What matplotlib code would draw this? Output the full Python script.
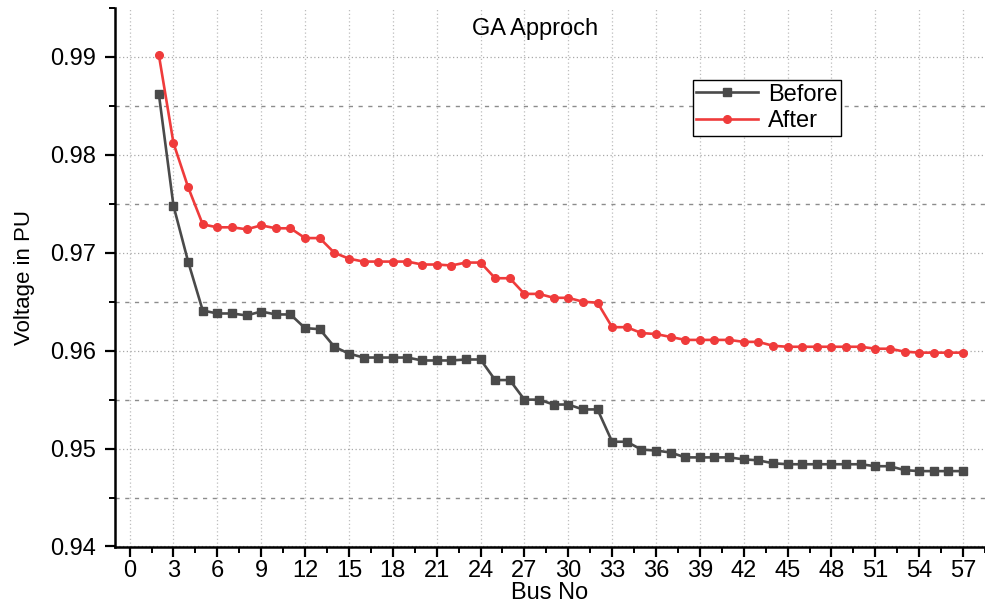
import numpy as np
import matplotlib
matplotlib.use("Agg")
import matplotlib.pyplot as plt
from matplotlib.ticker import MultipleLocator, FixedLocator, FormatStrFormatter

plt.rcParams['font.family'] = ['Liberation Sans', 'DejaVu Sans']

# bus voltages (pu) for buses 2..57
bus = list(range(2, 58))
before = [
    0.9862, 0.9748, 0.9691, 0.9641, 0.9638, 0.9638, 0.9636, 0.9640, 0.9637, 0.9637,
    0.9623, 0.9622, 0.9604, 0.9597, 0.9593, 0.9593, 0.9593, 0.9593, 0.9590, 0.9590,
    0.9590, 0.9591, 0.9591, 0.9570, 0.9570, 0.9550, 0.9550, 0.9545, 0.9545, 0.9540,
    0.9540, 0.9507, 0.9507, 0.9499, 0.9498, 0.9496, 0.9491, 0.9491, 0.9491, 0.9491,
    0.9489, 0.9488, 0.9485, 0.9484, 0.9484, 0.9484, 0.9484, 0.9484, 0.9484, 0.9482,
    0.9482, 0.9478, 0.9477, 0.9477, 0.9477, 0.9477]
after = [
    0.9902, 0.9812, 0.9767, 0.9729, 0.9726, 0.9726, 0.9724, 0.9728, 0.9725, 0.9725,
    0.9715, 0.9715, 0.9700, 0.9694, 0.9691, 0.9691, 0.9691, 0.9691, 0.9688, 0.9688,
    0.9687, 0.9690, 0.9690, 0.9674, 0.9674, 0.9658, 0.9658, 0.9654, 0.9654, 0.9650,
    0.9649, 0.9624, 0.9624, 0.9618, 0.9617, 0.9614, 0.9611, 0.9611, 0.9611, 0.9611,
    0.9609, 0.9609, 0.9605, 0.9604, 0.9604, 0.9604, 0.9604, 0.9604, 0.9604, 0.9602,
    0.9602, 0.9599, 0.9598, 0.9598, 0.9598, 0.9598]

fig = plt.figure(figsize=(9.85, 6.05), dpi=100)
ax = fig.add_axes([115 / 985, 1 - 546.5 / 605, 870 / 985, 538.5 / 605])

ax.plot(bus, before, color='#4a4a4a', lw=1.9, marker='s', markersize=5.5, label='Before')
ax.plot(bus, after, color='#ef3b3b', lw=1.9, marker='o', markersize=5.5, label='After')

ax.set_xlim(-1, 58.5)
ax.set_ylim(0.94, 0.995)
ax.xaxis.set_major_locator(MultipleLocator(3))
ax.xaxis.set_minor_locator(MultipleLocator(1.5))
ax.yaxis.set_major_locator(MultipleLocator(0.01))
ax.yaxis.set_minor_locator(FixedLocator([0.945, 0.955, 0.965, 0.975, 0.985, 0.995]))
ax.yaxis.set_major_formatter(FormatStrFormatter('%.2f'))

# grid: light dots on major, dashes on the half steps of y
ax.grid(True, which='major', axis='x', color='#bdbdbd', lw=0.9, ls=(0, (1, 2)))
ax.grid(True, which='major', axis='y', color='#a8a8a8', lw=0.9, ls=(0, (1, 2)))
ax.grid(True, which='minor', axis='y', color='#8c8c8c', lw=1.0, ls=(0, (3, 4)))
ax.set_axisbelow(True)
ax.yaxis.get_minor_ticks()[-1].gridline.set_visible(False)

for s in ['top', 'right']:
    ax.spines[s].set_visible(False)
for s in ['left', 'bottom']:
    ax.spines[s].set_linewidth(1.8)

ax.tick_params(which='major', direction='out', length=7.5, width=1.6, labelsize=17)
ax.tick_params(which='minor', direction='out', length=4, width=1.4)
ax.tick_params(axis='x', pad=2)
ax.tick_params(axis='y', pad=6)

ax.set_xlabel('Bus No', fontsize=17, labelpad=0.5)
ax.set_ylabel('Voltage in PU', fontsize=16, labelpad=11)

ax.text(0.483, 0.961, 'GA Approch', transform=ax.transAxes, ha='center', va='center', fontsize=17)

leg = ax.legend(loc='upper left', bbox_to_anchor=(0.664, 0.866), borderaxespad=0,
                fontsize=17, handlelength=2.6, handletextpad=0.45, borderpad=0.15,
                labelspacing=0.2, fancybox=False, framealpha=1, edgecolor='black')
leg.get_frame().set_linewidth(1.0)

fig.savefig('out.png', dpi=100)
